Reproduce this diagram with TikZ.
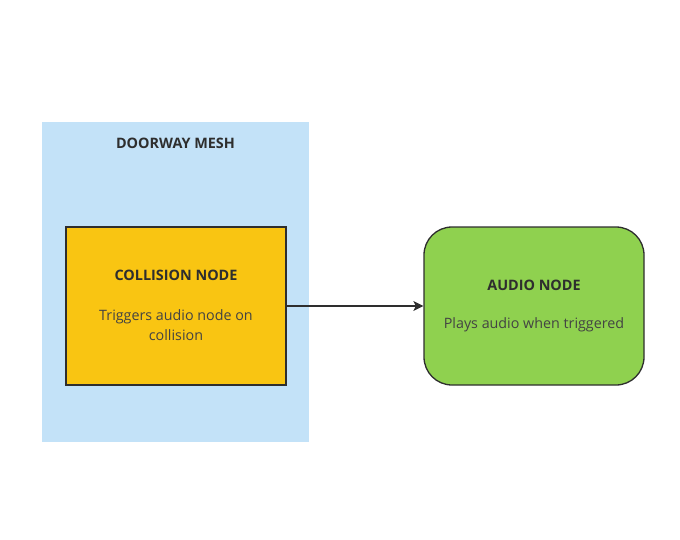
\documentclass[tikz,border=0pt]{standalone}
\usepackage{fontspec}
\setmainfont{Open Sans}
\usetikzlibrary{arrows.meta}
\definecolor{meshblue}{HTML}{C3E2F8}
\definecolor{colyellow}{HTML}{F9C512}
\definecolor{audgreen}{HTML}{8FD14F}
\definecolor{txt}{HTML}{2E2E2E}
\tikzset{
  px/.style={x=1pt,y=-1pt},
  title/.style={font=\fontsize{14.4}{17}\selectfont\bfseries, text=txt, inner sep=0pt},
  body/.style={font=\fontsize{14.3}{20}\selectfont, text=txt!90, inner sep=0pt, align=center},
  boxline/.style={draw=txt, line width=1.3pt},
}
\begin{document}
\begin{tikzpicture}[px]
\useasboundingbox (0,0) rectangle (680,539);
\fill[meshblue] (42,122) rectangle (309,442);
\node[title] (meshtitle) at (175.5,143) {DOORWAY MESH};
\node[boxline, fill=colyellow, minimum width=220pt, minimum height=158pt, inner sep=0pt] (col) at (176,306) {};
\node[title] (coltitle) at (176,275) {COLLISION NODE};
\node[body] (colbody) at (176,325) {Triggers audio node on\\collision};
\node[boxline, fill=audgreen, rounded corners=28pt, minimum width=220pt, minimum height=158pt, inner sep=0pt] (aud) at (534,306) {};
\node[title] (audtitle) at (534,285) {AUDIO NODE};
\node[body] (audbody) at (534,325) {Plays audio when triggered};
\draw[txt, line width=1.1pt, -{Stealth[length=10pt,width=10pt,inset=2.5pt]}] (col.east) -- (aud.west);
\end{tikzpicture}
\end{document}
